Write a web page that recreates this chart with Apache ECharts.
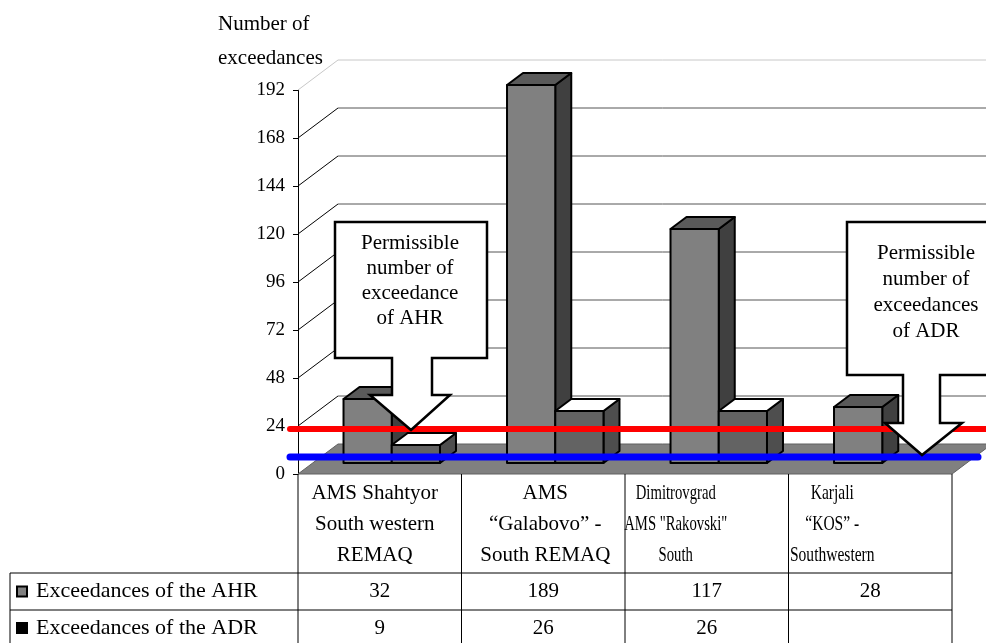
<!DOCTYPE html>
<html>
<head>
<meta charset="utf-8">
<script src="https://cdn.jsdelivr.net/npm/echarts/dist/echarts.min.js"></script>
<style>
  html, body { margin: 0; padding: 0; background: #ffffff; }
  #chart { width: 986px; height: 643px; }
</style>
</head>
<body>
<div id="chart"></div>
<script>
// ---- data ----
const categories = [
  'AMS Shahtyor\nSouth western\nREMAQ',
  'AMS\n“Galabovo” -\nSouth REMAQ',
  'Dimitrovgrad\nAMS "Rakovski"\nSouth',
  'Karjali\n“KOS” -\nSouthwestern'
];
const seriesNames = ['Exceedances of the AHR', 'Exceedances of the ADR'];
const ahrValues = [32, 189, 117, 28];
const adrValues = [9, 26, 26, null];
const yTicks = [0, 24, 48, 72, 96, 120, 144, 168, 192];
const axisTitle = 'Number of\nexceedances';
// permissible levels marked by the red and blue lines
const ahrPermissibleLevel = 22.5;
const adrPermissibleLevel = 8.5;
const ahrCalloutText = 'Permissible\nnumber of\nexceedance\nof AHR';
const adrCalloutText = 'Permissible\nnumber of\nexceedances\nof ADR';

// ---- layout ----
const W = 986, H = 643;
const GRID = { left: 298, top: 90, width: 654, height: 384 };
const WALL_DEPTH = [40, -30];      // offset of the back wall
const BAR_PLANE = [12, -11];       // bars sit a little inside the floor
const BAR_DEPTH = [16, -12];
const BAR_FRACTION = 0.295;
const FONT = "'Liberation Serif', 'Times New Roman', serif";
const TABLE = { left: 10, headerBottom: 573, row1Bottom: 610, row2Bottom: 646 };
const LABEL_SHIFT = [-5, 2, -31, -38];
const LABEL_SCALE_X = [1, 1, 0.7, 0.74];

const chart = echarts.init(document.getElementById('chart'), null, { renderer: 'canvas' });

function wallRenderer(params, api) {
  const cs = params.coordSys;
  const v = api.value(1);
  const y = api.coord([0, v])[1];
  const gx = cs.x, gw = cs.width;
  const [dx, dy] = WALL_DEPTH;
  if (v === 0) {
    return {
      type: 'polygon',
      shape: { points: [[gx, y], [gx + gw, y], [gx + gw + dx, y + dy], [gx + dx, y + dy]] },
      style: { fill: '#808080', stroke: '#606060', lineWidth: 1 }
    };
  }
  const top = v === yTicks[yTicks.length - 1];
  const col = top ? '#c8c8c8' : '#000000';
  return {
    type: 'group',
    children: [
      { type: 'line', shape: { x1: gx, y1: y, x2: gx + dx, y2: y + dy }, style: { stroke: col, lineWidth: 1 } },
      { type: 'line', shape: { x1: gx + dx, y1: y + dy, x2: W + 20, y2: y + dy },
        style: { stroke: top ? '#c8c8c8' : '#555555', lineWidth: 1 } }
    ]
  };
}

function barRenderer(slot, colors) {
  return function (params, api) {
    const i = api.value(0), v = api.value(1);
    if (v == null || isNaN(v)) return null;
    const base = api.coord([i, 0]);
    const top = api.coord([i, v]);
    const band = api.size([1, 0])[0];
    const w = band * BAR_FRACTION;
    const cx = base[0] + BAR_PLANE[0];
    const x0 = cx - w + slot * w;
    const x1 = x0 + w;
    const yb = base[1] + BAR_PLANE[1];
    const yt = top[1] + BAR_PLANE[1];
    const [dx, dy] = BAR_DEPTH;
    const st = { stroke: '#000000', lineWidth: 2, lineJoin: 'round' };
    return {
      type: 'group',
      children: [
        { type: 'polygon', shape: { points: [[x1, yb], [x1 + dx, yb + dy], [x1 + dx, yt + dy], [x1, yt]] },
          style: Object.assign({ fill: colors.side }, st) },
        { type: 'polygon', shape: { points: [[x0, yt], [x1, yt], [x1 + dx, yt + dy], [x0 + dx, yt + dy]] },
          style: Object.assign({ fill: colors.top }, st) },
        { type: 'rect', shape: { x: x0, y: yt, width: w, height: yb - yt },
          style: Object.assign({ fill: colors.front }, st) }
      ]
    };
  };
}

function levelRenderer(color, width, xEnd) {
  return function (params, api) {
    const cs = params.coordSys;
    const y = api.coord([0, api.value(1)])[1];
    return {
      type: 'line',
      shape: { x1: cs.x - 8, y1: y, x2: xEnd, y2: y },
      style: { stroke: color, lineWidth: width, lineCap: 'round' }
    };
  };
}

// table below the plot, built from the category and value arrays
function tableGraphics() {
  const els = [];
  const band = GRID.width / categories.length;
  const y0 = GRID.top + GRID.height;
  const right = GRID.left + GRID.width;
  const ln = (x1, y1, x2, y2) => els.push({ type: 'line', z: 20,
    shape: { x1, y1, x2, y2 }, style: { stroke: '#000', lineWidth: 1 } });
  for (let k = 0; k <= categories.length; k++) {
    const x = GRID.left + k * band;
    ln(x, y0, x, TABLE.row2Bottom);
  }
  ln(TABLE.left, TABLE.headerBottom, right, TABLE.headerBottom);
  ln(TABLE.left, TABLE.row1Bottom, right, TABLE.row1Bottom);
  ln(TABLE.left, TABLE.row2Bottom, right, TABLE.row2Bottom);
  ln(TABLE.left, TABLE.headerBottom, TABLE.left, TABLE.row2Bottom);

  const txt = (x, y, text, align, size, sx) => els.push({ type: 'text', z: 21, x, y,
    scaleX: sx || 1,
    style: { text, fill: '#000', font: (size || 21) + 'px ' + FONT, align: align || 'center',
      verticalAlign: 'middle', lineHeight: 31 } });

  categories.forEach((c, k) => {
    const cx = GRID.left + (k + 0.5) * band;
    txt(cx + LABEL_SHIFT[k], (y0 + TABLE.headerBottom) / 2 + 1, c, 'center', 21, LABEL_SCALE_X[k]);
    const r1 = (TABLE.headerBottom + TABLE.row1Bottom) / 2;
    const r2 = (TABLE.row1Bottom + TABLE.row2Bottom) / 2;
    if (ahrValues[k] != null) txt(cx, r1, String(ahrValues[k]));
    if (adrValues[k] != null) txt(cx, r2, String(adrValues[k]));
  });

  const rows = [
    { y: (TABLE.headerBottom + TABLE.row1Bottom) / 2, fill: '#808080' },
    { y: (TABLE.row1Bottom + TABLE.row2Bottom) / 2, fill: '#000000' }
  ];
  rows.forEach((r, s) => {
    els.push({ type: 'rect', z: 21, shape: { x: 17, y: r.y - 5, width: 10, height: 10 },
      style: { fill: r.fill, stroke: '#000', lineWidth: 2 } });
    txt(36, r.y, seriesNames[s], 'left', 22);
  });
  return els;
}

function calloutGraphics() {
  const box = { fill: '#ffffff', stroke: '#000000', lineWidth: 2.5, lineJoin: 'miter' };
  return [
    { type: 'polygon', z: 30, shape: { points: [
        [335, 222], [487, 222], [487, 358], [432, 358], [432, 395], [450, 395], [411, 430],
        [370, 395], [392, 395], [392, 358], [335, 358]] }, style: box },
    { type: 'text', z: 31, x: 410, y: 281,
      style: { text: ahrCalloutText, fill: '#000', font: '21px ' + FONT, align: 'center', verticalAlign: 'middle', lineHeight: 25 } },
    { type: 'polygon', z: 30, shape: { points: [
        [847, 222], [1005, 222], [1005, 375], [940, 375], [940, 423], [962, 423], [922, 455],
        [885, 423], [903, 423], [903, 375], [847, 375]] }, style: box },
    { type: 'text', z: 31, x: 926, y: 292,
      style: { text: adrCalloutText, fill: '#000', font: '21px ' + FONT, align: 'center', verticalAlign: 'middle', lineHeight: 26 } }
  ];
}

const option = {
  animation: false,
  backgroundColor: '#ffffff',
  title: {
    text: axisTitle, left: 213, top: 2,
    textStyle: { fontFamily: FONT, fontSize: 21, fontWeight: 'normal', color: '#000', lineHeight: 34 }
  },
  grid: { left: GRID.left, top: GRID.top, width: GRID.width, height: GRID.height, containLabel: false },
  xAxis: {
    type: 'category', data: categories,
    axisLine: { show: false }, axisTick: { show: false }, axisLabel: { show: false }, splitLine: { show: false }
  },
  yAxis: {
    type: 'value', min: 0, max: 192, interval: 24,
    axisLine: { show: true, lineStyle: { color: '#000', width: 1 } },
    axisTick: { show: true, length: 5, lineStyle: { color: '#000' } },
    axisLabel: { color: '#000', fontFamily: FONT, fontSize: 19, margin: 13 },
    splitLine: { show: false }
  },
  series: [
    { type: 'custom', name: 'walls', z: 1, silent: true,
      data: yTicks.map(v => [0, v]), renderItem: wallRenderer },
    { type: 'custom', name: seriesNames[0], z: 2,
      data: ahrValues.map((v, i) => [i, v]),
      renderItem: barRenderer(0, { front: '#808080', top: '#5a5a5a', side: '#404040' }) },
    { type: 'custom', name: seriesNames[1], z: 3,
      data: adrValues.map((v, i) => [i, v]).filter(d => d[1] != null),
      renderItem: barRenderer(1, { front: '#636363', top: '#ffffff', side: '#4e4e4e' }) },
    { type: 'custom', name: 'AHR level', z: 4, silent: true,
      data: [[0, ahrPermissibleLevel]], renderItem: levelRenderer('#ff0000', 6, W + 20) },
    { type: 'custom', name: 'ADR level', z: 4, silent: true,
      data: [[0, adrPermissibleLevel]], renderItem: levelRenderer('#0000ff', 7, 978) }
  ],
  graphic: tableGraphics().concat(calloutGraphics())
};

chart.setOption(option);
</script>
</body>
</html>
